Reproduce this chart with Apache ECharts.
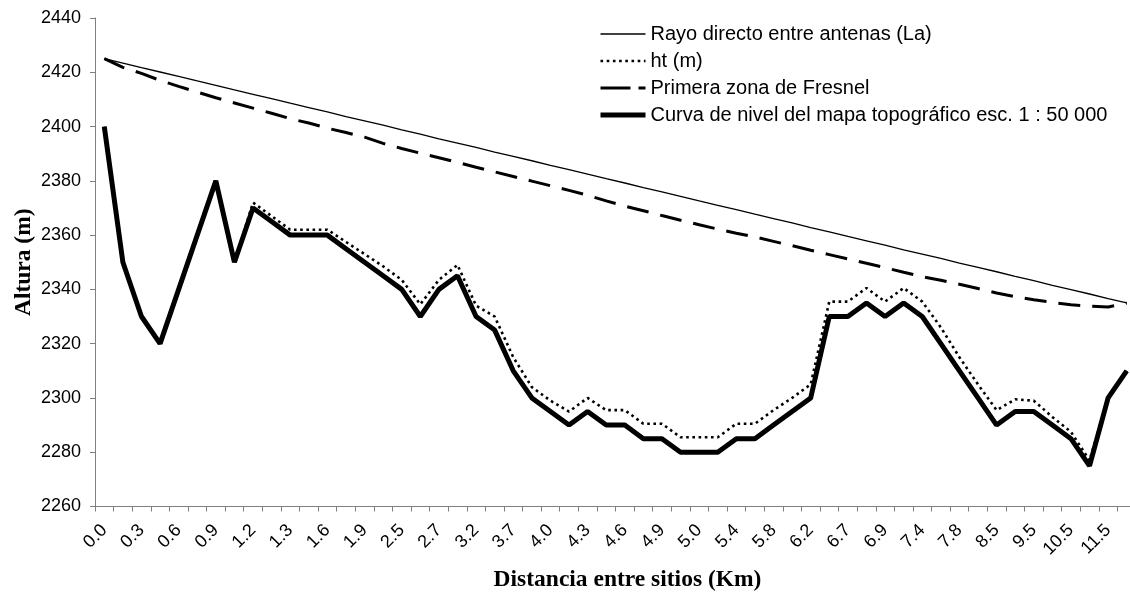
<!DOCTYPE html>
<html>
<head>
<meta charset="utf-8">
<script src="https://cdn.jsdelivr.net/npm/echarts@6/dist/echarts.min.js"></script>
<style>
html,body{margin:0;padding:0;background:#fff;}
#chart{width:1130px;height:593px;}
</style>
</head>
<body>
<div id="chart"></div>
<script>
// x categories (only every other one is labelled in the chart)
var categories = ['0.0','0.2','0.3','0.5','0.6','0.8','0.9','1.1','1.2','1.25','1.3','1.5','1.6','1.8','1.9','2.2','2.5','2.6','2.7','3.0','3.2','3.5','3.7','3.9','4.0','4.2','4.3','4.5','4.6','4.8','4.9','4.95','5.0','5.2','5.4','5.6','5.8','6.0','6.2','6.5','6.7','6.8','6.9','7.2','7.4','7.6','7.8','8.2','8.5','9.0','9.5','10.0','10.5','11.0','11.5','12.0'];

// Rayo directo entre antenas (La)
var rayo = [2425,2423.4,2421.7,2420.1,2418.5,2416.8,2415.2,2413.5,2411.9,2410.3,2408.6,2407.0,2405.4,2403.7,2402.1,2400.5,2398.8,2397.2,2395.5,2393.9,2392.3,2390.6,2389.0,2387.4,2385.7,2384.1,2382.5,2380.8,2379.2,2377.5,2375.9,2374.3,2372.6,2371.0,2369.4,2367.7,2366.1,2364.5,2362.8,2361.2,2359.5,2357.9,2356.3,2354.6,2353.0,2351.4,2349.7,2348.1,2346.5,2344.8,2343.2,2341.5,2339.9,2338.3,2336.6,2335];

// ht (m)
var ht = [2400,2350,2330,2320,2340,2360,2380,2350,2372,2367,2362,2362,2362,2357.5,2353,2348.5,2343.5,2334.5,2343.5,2349,2334,2330,2315,2304,2299,2295,2300,2295.5,2295.5,2290.5,2290.5,2285.5,2285.5,2285.5,2290.5,2290.5,2295.5,2300,2305,2335.5,2335.5,2340.5,2335.5,2340.5,2335.5,2326,2315,2305,2295.5,2299.5,2299,2293,2287.5,2277,2300,2310];

// Primera zona de Fresnel
var fresnel = [2425,2421.8,2419.6,2417.0,2414.8,2412.7,2410.6,2408.7,2406.8,2404.9,2402.9,2401.3,2399.4,2397.8,2396.1,2393.8,2391.9,2390.2,2388.5,2386.8,2385.0,2383.3,2381.6,2379.9,2378.2,2376.5,2374.7,2372.6,2370.7,2369.0,2367.2,2365.5,2363.8,2362.2,2360.7,2359.3,2357.7,2356.1,2354.4,2352.8,2351.2,2349.6,2348.0,2346.3,2344.7,2343.4,2341.9,2340.3,2338.7,2337.3,2336.2,2335.2,2334.3,2333.8,2333.5,2335];

// Curva de nivel del mapa topográfico esc. 1 : 50 000
var curva = [2400,2350,2330,2320,2340,2360,2380,2350,2370,2365,2360,2360,2360,2355,2350,2345,2340,2330,2340,2345,2330,2325,2310,2300,2295,2290,2295,2290,2290,2285,2285,2280,2280,2280,2285,2285,2290,2295,2300,2330,2330,2335,2330,2335,2330,2320,2310,2300,2290,2295,2295,2290,2285,2275,2300,2310];

var seriesNames = ['Rayo directo entre antenas (La)','ht (m)','Primera zona de Fresnel','Curva de nivel del mapa topográfico esc. 1 : 50 000'];

var chart = echarts.init(document.getElementById('chart'), null, {renderer:'canvas'});
var axisGray = '#808080';
chart.setOption({
  animation:false,
  backgroundColor:'#ffffff',
  grid:{left:95, top:18, width:1041, height:488.5, containLabel:false, outerBoundsMode:'none'},
  legend:{
    orient:'vertical', left:598, top:24, padding:0,
    itemWidth:45, itemHeight:14, itemGap:7,
    textStyle:{fontFamily:'Liberation Sans, Arial', fontSize:20, color:'#000'},
    itemStyle:{color:'rgba(0,0,0,0)', borderWidth:0},
    data:[
      {name:seriesNames[0], lineStyle:{width:1.3, type:'solid', color:'#000'}},
      {name:seriesNames[1], lineStyle:{width:2.6, type:[2.6,3.6], color:'#000'}},
      {name:seriesNames[2], lineStyle:{width:3, type:[30,8], color:'#000'}},
      {name:seriesNames[3], lineStyle:{width:5, type:'solid', color:'#000'}}
    ]
  },
  xAxis:{
    type:'category', data:categories, boundaryGap:true,
    name:'Distancia entre sitios (Km)', nameLocation:'middle', nameGap:61, nameMoveOverlap:false,
    nameTextStyle:{fontFamily:'Liberation Serif, Times New Roman', fontWeight:'bold', fontSize:23.5, color:'#000', padding:[0,0,0,24]},
    axisLine:{show:true, lineStyle:{color:axisGray, width:1}},
    axisTick:{show:true, interval:0, length:5, inside:false, lineStyle:{color:axisGray}},
    axisLabel:{interval:1, rotate:45, margin:21, fontFamily:'Liberation Sans, Arial', fontSize:18, color:'#000'},
    splitLine:{show:false}
  },
  yAxis:{
    type:'value', min:2260, max:2440, interval:20,
    name:'Altura (m)', nameLocation:'middle', nameGap:59, nameMoveOverlap:false,
    nameTextStyle:{fontFamily:'Liberation Serif, Times New Roman', fontWeight:'bold', fontSize:23.5, color:'#000'},
    axisLine:{show:true, lineStyle:{color:axisGray, width:1}},
    axisTick:{show:true, length:5, inside:false, lineStyle:{color:axisGray}},
    axisLabel:{margin:14, fontFamily:'Liberation Sans, Arial', fontSize:18, color:'#000', formatter:function(v){return String(v);}},
    splitLine:{show:false}
  },
  series:[
    {name:seriesNames[0], type:'line', data:rayo, symbol:'none', z:2,
     lineStyle:{color:'#000', width:1.3, type:'solid'}, itemStyle:{color:'#000'}},
    {name:seriesNames[1], type:'line', data:ht, symbol:'none', z:3,
     lineStyle:{color:'#000', width:2.6, type:[2.6,3.6]}, itemStyle:{color:'#000'}},
    {name:seriesNames[2], type:'line', data:fresnel, symbol:'none', z:2,
     lineStyle:{color:'#000', width:3, type:[22,12]}, itemStyle:{color:'#000'}},
    {name:seriesNames[3], type:'line', data:curva, symbol:'none', z:4,
     lineStyle:{color:'#000', width:5, type:'solid'}, itemStyle:{color:'#000'}}
  ]
});
</script>
</body>
</html>
